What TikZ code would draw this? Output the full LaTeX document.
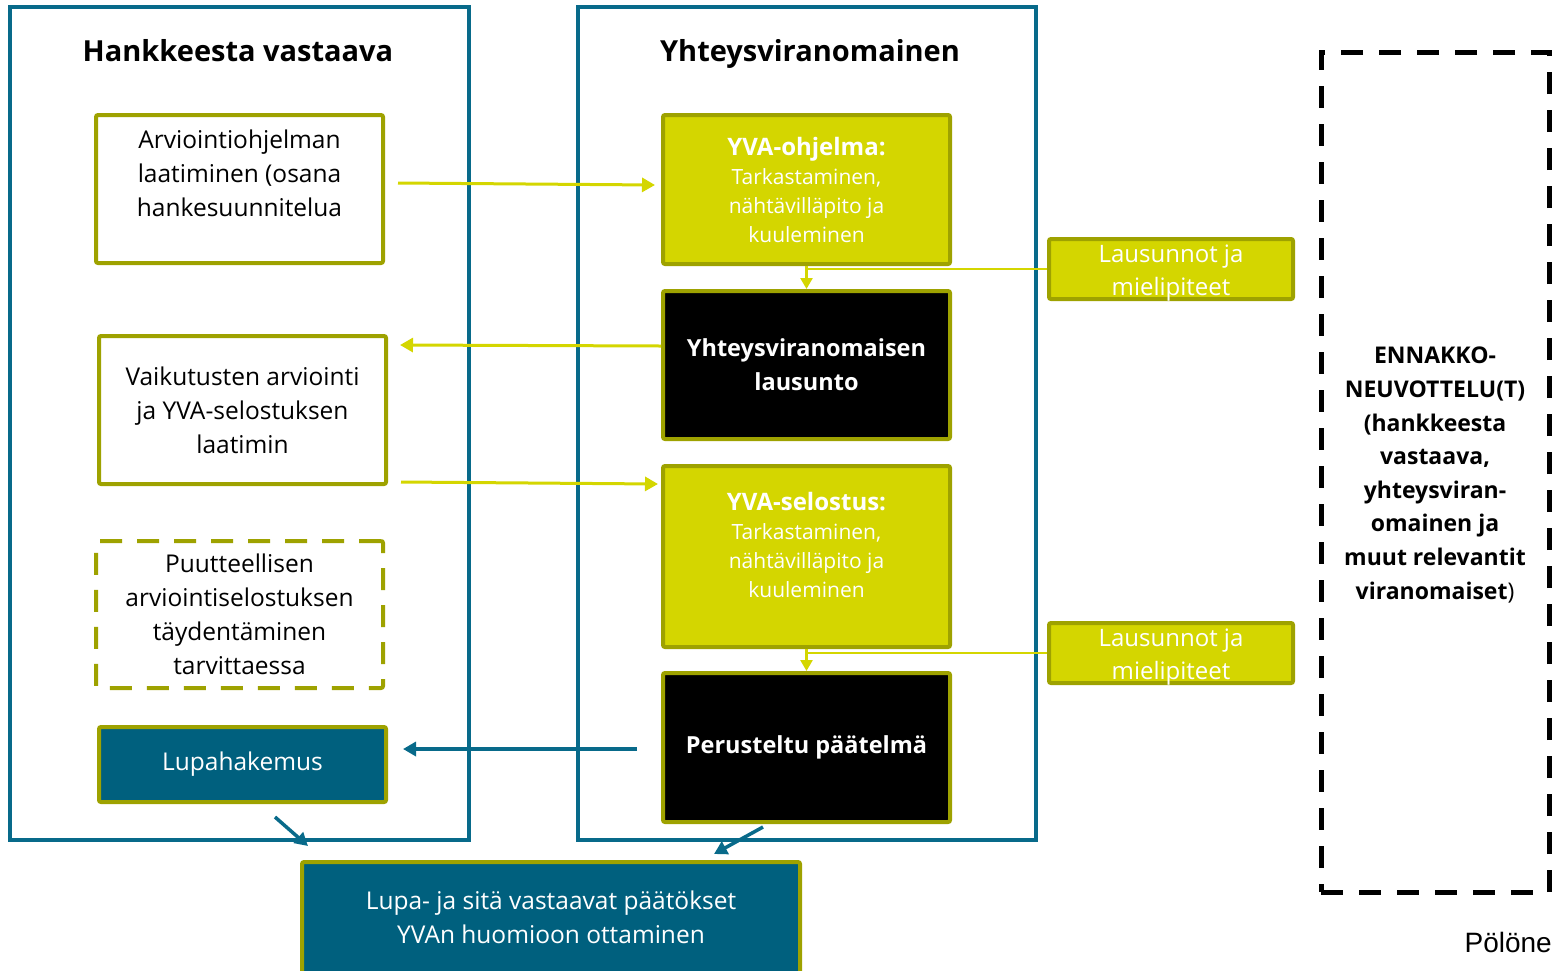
\documentclass[tikz,border=0pt]{standalone}
\usepackage{fontspec}
\setmainfont{Open Sans}
\newfontfamily\arialfont{Liberation Sans}
\usetikzlibrary{arrows.meta}
\definecolor{yvablue}{RGB}{0,96,126}
\definecolor{frameblue}{RGB}{8,106,138}
\definecolor{yvalime}{RGB}{212,214,0}
\definecolor{yvaolive}{RGB}{158,162,0}

\tikzset{
  outer/.style={draw=frameblue, line width=4pt, minimum width=459pt, minimum height=833pt},
  title/.style={anchor=base, font=\fontsize{29}{34}\selectfont\bfseries},
  hbox/.style={draw=yvaolive, line width=4pt, rounded corners=2pt, fill=white, minimum width=287pt, align=center, font=\fontsize{24.5}{34}\selectfont},
  dbox/.style={hbox, dash pattern=on 22pt off 15pt},
  ybox/.style={draw=yvaolive, line width=4pt, rounded corners=2pt, fill=yvalime, text=white, minimum width=287pt, align=center, font=\fontsize{21}{29}\selectfont},
  kbox/.style={ybox, fill=black, font=\fontsize{23.5}{34}\selectfont\bfseries},
  bbox/.style={ybox, fill=yvablue, font=\fontsize{24.5}{34}\selectfont},
  lbox/.style={ybox, minimum width=244pt, minimum height=60pt, inner sep=0pt, font=\fontsize{24}{33}\selectfont},
  txt/.style={align=center, inner sep=0pt},
  yarrow/.style={draw=yvalime, line width=3pt, -{Triangle[width=14pt,length=13pt]}},
  barrow/.style={draw=frameblue, line width=3.5pt, -{Triangle[width=14pt,length=13pt]}},
}

\begin{document}
\begin{tikzpicture}[x=1pt, y=-1pt]
\useasboundingbox (0,0) rectangle (1552,970);

% Frames
\node[outer] (left) at (239.5,423.5) {};
\node[outer, minimum width=458pt] (mid) at (807,423.5) {};
\node[title] (tleft) at (238,61) {Hankkeesta vastaava};
\node[title] (tmid) at (810,61) {Yhteysviranomainen};

% Hankkeesta vastaava
\node[hbox, minimum height=148pt] (a1) at (239.5,189) {};
\node[txt, font=\fontsize{24.5}{34}\selectfont] (a1t) at ([yshift=16pt]a1.center) {Arviointiohjelman\\laatiminen (osana\\hankesuunnitelua};
\node[hbox, minimum height=148pt] (a2) at (242.5,410) {Vaikutusten arviointi\\ja YVA-selostuksen\\laatimin};
\node[dbox, minimum height=147pt] (a3) at (239.5,614.5) {Puutteellisen\\arviointiselostuksen\\täydentäminen\\tarvittaessa};
\node[bbox, minimum height=75pt] (lupa) at (242.5,764.5) {Lupahakemus};

% Yhteysviranomainen
\node[ybox, minimum height=149pt] (b1) at (806.5,189.5) {{\fontsize{24}{29}\selectfont\bfseries YVA-ohjelma:}\\Tarkastaminen,\\nähtävillä­pito ja\\kuuleminen};
\node[kbox, minimum height=148pt] (b2) at (806.5,365) {Yhteysviranomaisen\\lausunto};
\node[ybox, minimum height=181pt] (b3) at (806.5,556.5) {};
\node[txt, text=white, font=\fontsize{21}{29}\selectfont] (b3t) at ([yshift=12pt]b3.center) {{\fontsize{24}{29}\selectfont\bfseries YVA-selostus:}\\Tarkastaminen,\\nähtävillä­pito ja\\kuuleminen};
\node[kbox, minimum height=149pt] (b4) at (806.5,747.5) {Perusteltu päätelmä};

% Lausunnot
\node[lbox] (lau1) at (1171,269) {};
\node[txt, text=white, font=\fontsize{24}{33}\selectfont] (lau1t) at ([yshift=-4pt]lau1.center) {Lausunnot ja\\mielipiteet};
\node[lbox] (lau2) at (1171,653) {};
\node[txt, text=white, font=\fontsize{24}{33}\selectfont] (lau2t) at ([yshift=-4pt]lau2.center) {Lausunnot ja\\mielipiteet};

% Luvat
\node[bbox, minimum width=498pt, minimum height=116pt] (luvat) at (551,920) {};
\node[txt, text=white, font=\fontsize{24.5}{34}\selectfont] (luvatt) at ([yshift=3pt]luvat.center) {Lupa- ja sitä vastaavat päätökset\\YVAn huomioon ottaminen};

% Ennakkoneuvottelu
\node[draw=black, line width=5pt, dash pattern=on 22pt off 16pt, minimum width=228pt, minimum height=840pt] (enn) at (1435,472) {};
\node[txt, font=\fontsize{23}{33.6}\selectfont\bfseries] (ennt) at ([yshift=-3pt]enn.center) {ENNAKKO-\\NEUVOTTELU(T)\\(hankkeesta\\vastaava,\\yhteysviran-\\omainen ja\\muut relevantit\\viranomaiset{\mdseries)}};

\node[anchor=north east, inner sep=0pt, font=\arialfont\fontsize{28}{30}\selectfont] (src) at (1552,932) {Pölöne};

% Arrows
\draw[yarrow] ([xshift=13pt,yshift=6pt]a1.east) -- ([xshift=-6pt,yshift=4.5pt]b1.west);
\draw[yarrow] ([yshift=19pt]b2.west) -- ([xshift=12pt,yshift=65pt]a2.east);
\draw[yarrow] ([xshift=13pt,yshift=-72pt]a2.east) -- ([xshift=-3pt,yshift=72.5pt]b3.west);
\draw[yarrow, line width=2.5pt, -{Triangle[width=12pt,length=11pt]}] (b1.south) -- (b2.north);
\draw[yarrow, line width=2.5pt, -{Triangle[width=12pt,length=11pt]}] (b3.south) -- (b4.north);
\draw[draw=yvalime, line width=1.5pt] (lau1.west) -- (lau1.west -| b1.south);
\draw[draw=yvalime, line width=1.5pt] (lau2.west) -- (lau2.west -| b3.south);
\draw[barrow] ([xshift=-24pt,yshift=-1.5pt]b4.west) -- ([xshift=15pt,yshift=15.5pt]lupa.east);
\draw[barrow] ([xshift=32.5pt,yshift=-13pt]lupa.south) -- ([xshift=8pt,yshift=14pt]luvat.north west);
\draw[barrow] ([xshift=-43.5pt,yshift=-3pt]b4.south) -- ([xshift=-88pt,yshift=6pt]luvat.north east);

\end{tikzpicture}
\end{document}
